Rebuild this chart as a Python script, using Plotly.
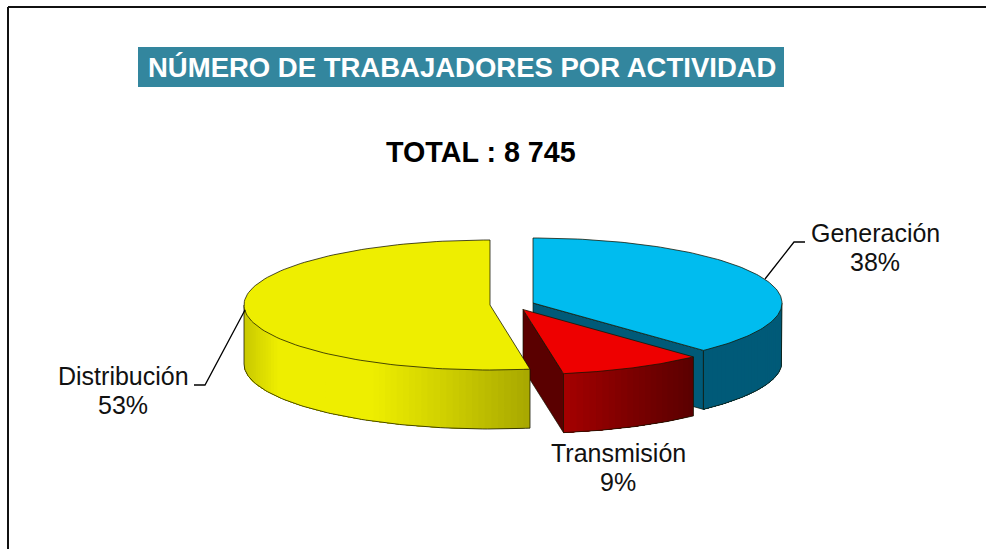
import math
import plotly.graph_objects as go

# ---- data ----
categories = ["Generación", "Transmisión", "Distribución"]
shares = [38.0, 9.4, 52.6]
title_text = "NÚMERO DE TRABAJADORES POR ACTIVIDAD"
total_text = "TOTAL : 8 745"

# ---- styling ----
top_colors = ["#00BCEF", "#EE0000", "#EEEE00"]
wall_colors = ["#005A78", "#5A0000", "#B0B000"]
# (position across the visible rim, colour) per slice
rim_stops = [
    [(0.0, (0, 90, 120)), (1.0, (0, 90, 120))],
    [(0.0, (165, 0, 0)), (0.5, (125, 0, 0)), (1.0, (90, 0, 0))],
    [(0.0, (200, 200, 0)), (0.12, (238, 238, 0)), (0.45, (238, 238, 0)), (0.72, (205, 205, 0)), (1.0, (168, 168, 0))],
]
centers = [(533, 303), (523, 309.5), (490, 305)]
radii_x = [249, 249, 246]
RY, DEPTH = 65, 59
FONT = "Liberation Sans"
EDGE = "rgba(20,20,0,0.85)"


def rim_xy(i, deg):
    a = math.radians(deg)
    return centers[i][0] + radii_x[i] * math.sin(a), centers[i][1] - RY * math.cos(a)


def lerp_color(stops, t):
    for (t0, c0), (t1, c1) in zip(stops, stops[1:]):
        if t <= t1:
            f = (t - t0) / (t1 - t0)
            return "rgb(%d,%d,%d)" % tuple(round(p + (q - p) * f) for p, q in zip(c0, c1))
    return "rgb(%d,%d,%d)" % stops[-1][1]


def poly(x, y, fill, line=None, width=0):
    return go.Scatter(
        x=list(x) + [x[0]], y=list(y) + [y[0]], mode="lines", fill="toself", fillcolor=fill,
        line=dict(color=line or fill, width=width), hoverinfo="skip", showlegend=False,
    )


fig = go.Figure()
bounds = []
acc = 0.0
for v in shares:
    bounds.append((acc * 3.6, (acc + v) * 3.6))
    acc += v

# paint back to front: Generación, Transmisión, Distribución
for i, (a0, a1) in enumerate(bounds):
    c = centers[i]
    pts_a1 = rim_xy(i, a1)
    # flat inner walls
    if i in (0, 1):
        fig.add_trace(poly([c[0], pts_a1[0], pts_a1[0], c[0]],
                           [c[1], pts_a1[1], pts_a1[1] + DEPTH, c[1] + DEPTH],
                           wall_colors[i], EDGE, 0.8))
    # curved rim (only the part facing the viewer: 90°..270°)
    r0, r1 = max(a0, 90), min(a1, 270)
    n = max(2, int((r1 - r0) / 1.5))
    step = (r1 - r0) / n
    xs = [rim_xy(i, r0)[0], rim_xy(i, r1)[0]]
    for k in range(n):
        # each band reaches to the end of the rim; the next band paints over it, so no seams
        arc = [rim_xy(i, r0 + k * step + (r1 - r0 - k * step) * j / 40) for j in range(41)]
        xm = (rim_xy(i, r0 + k * step)[0] + rim_xy(i, r0 + (k + 1) * step)[0]) / 2
        t = (xm - min(xs)) / (max(xs) - min(xs))
        col = lerp_color(rim_stops[i], t)
        fig.add_trace(poly([p[0] for p in arc] + [p[0] for p in reversed(arc)],
                           [p[1] for p in arc] + [p[1] + DEPTH for p in reversed(arc)], col))
    # outline of the rim
    arc = [rim_xy(i, r0 + (r1 - r0) * k / 90) for k in range(91)]
    ox = [arc[0][0]] + [p[0] for p in arc] + [arc[-1][0]]
    oy = [arc[0][1]] + [p[1] + DEPTH for p in arc] + [arc[-1][1]]
    fig.add_trace(go.Scatter(x=ox, y=oy, mode="lines", line=dict(color=EDGE, width=0.9),
                             hoverinfo="skip", showlegend=False))
    # top face
    arc = [rim_xy(i, a0 + (a1 - a0) * k / 120) for k in range(121)]
    fig.add_trace(poly([c[0]] + [p[0] for p in arc], [c[1]] + [p[1] for p in arc],
                       top_colors[i], EDGE, 0.9))

# leader lines
leaders = [([765, 794, 805], [279, 242, 242]), ([245, 205, 194], [310, 385, 385])]
for lx, ly in leaders:
    fig.add_trace(go.Scatter(x=lx, y=ly, mode="lines", line=dict(color="black", width=1.3),
                             hoverinfo="skip", showlegend=False))

# data labels: name and percentage, set as two lines
label_pos = [(875, 233), (618, 453), (123, 376)]
LINE_GAP = 29
annotations = []
for (px, py), name, v in zip(label_pos, categories, shares):
    for yy, txt in ((py, name), (py + LINE_GAP, f"{round(v)}%")):
        annotations.append(dict(x=px, y=yy, xref="x", yref="y", text=txt, showarrow=False,
                                font=dict(family=FONT, size=25, color="#111111")))

annotations.append(dict(x=461.5, y=67, xref="x", yref="y", text=f"<b>{title_text}</b>", showarrow=False,
                        font=dict(family=FONT, size=27.5, color="white")))
annotations.append(dict(x=481, y=152, xref="x", yref="y", text=f"<b>{total_text}</b>", showarrow=False,
                        font=dict(family=FONT, size=28.7, color="black")))

shapes = [
    dict(type="rect", xref="x", yref="y", x0=138, x1=784, y0=47, y1=87, fillcolor="#33869E",
         line=dict(width=0), layer="below"),
    dict(type="line", xref="x", yref="y", x0=8, x1=986, y0=7, y1=7, line=dict(color="#111111", width=2)),
    dict(type="line", xref="x", yref="y", x0=8, x1=8, y0=7, y1=549, line=dict(color="#111111", width=2)),
]

fig.update_layout(
    width=986, height=549, margin=dict(l=0, r=0, t=0, b=0), autosize=False,
    paper_bgcolor="white", plot_bgcolor="white", showlegend=False,
    xaxis=dict(range=[0, 986], visible=False, fixedrange=True),
    yaxis=dict(range=[549, 0], visible=False, fixedrange=True),
    annotations=annotations, shapes=shapes,
)
fig.write_html("out.html", config=dict(displayModeBar=False),
               post_script="document.body.style.margin='0';document.documentElement.style.overflow='hidden';")
